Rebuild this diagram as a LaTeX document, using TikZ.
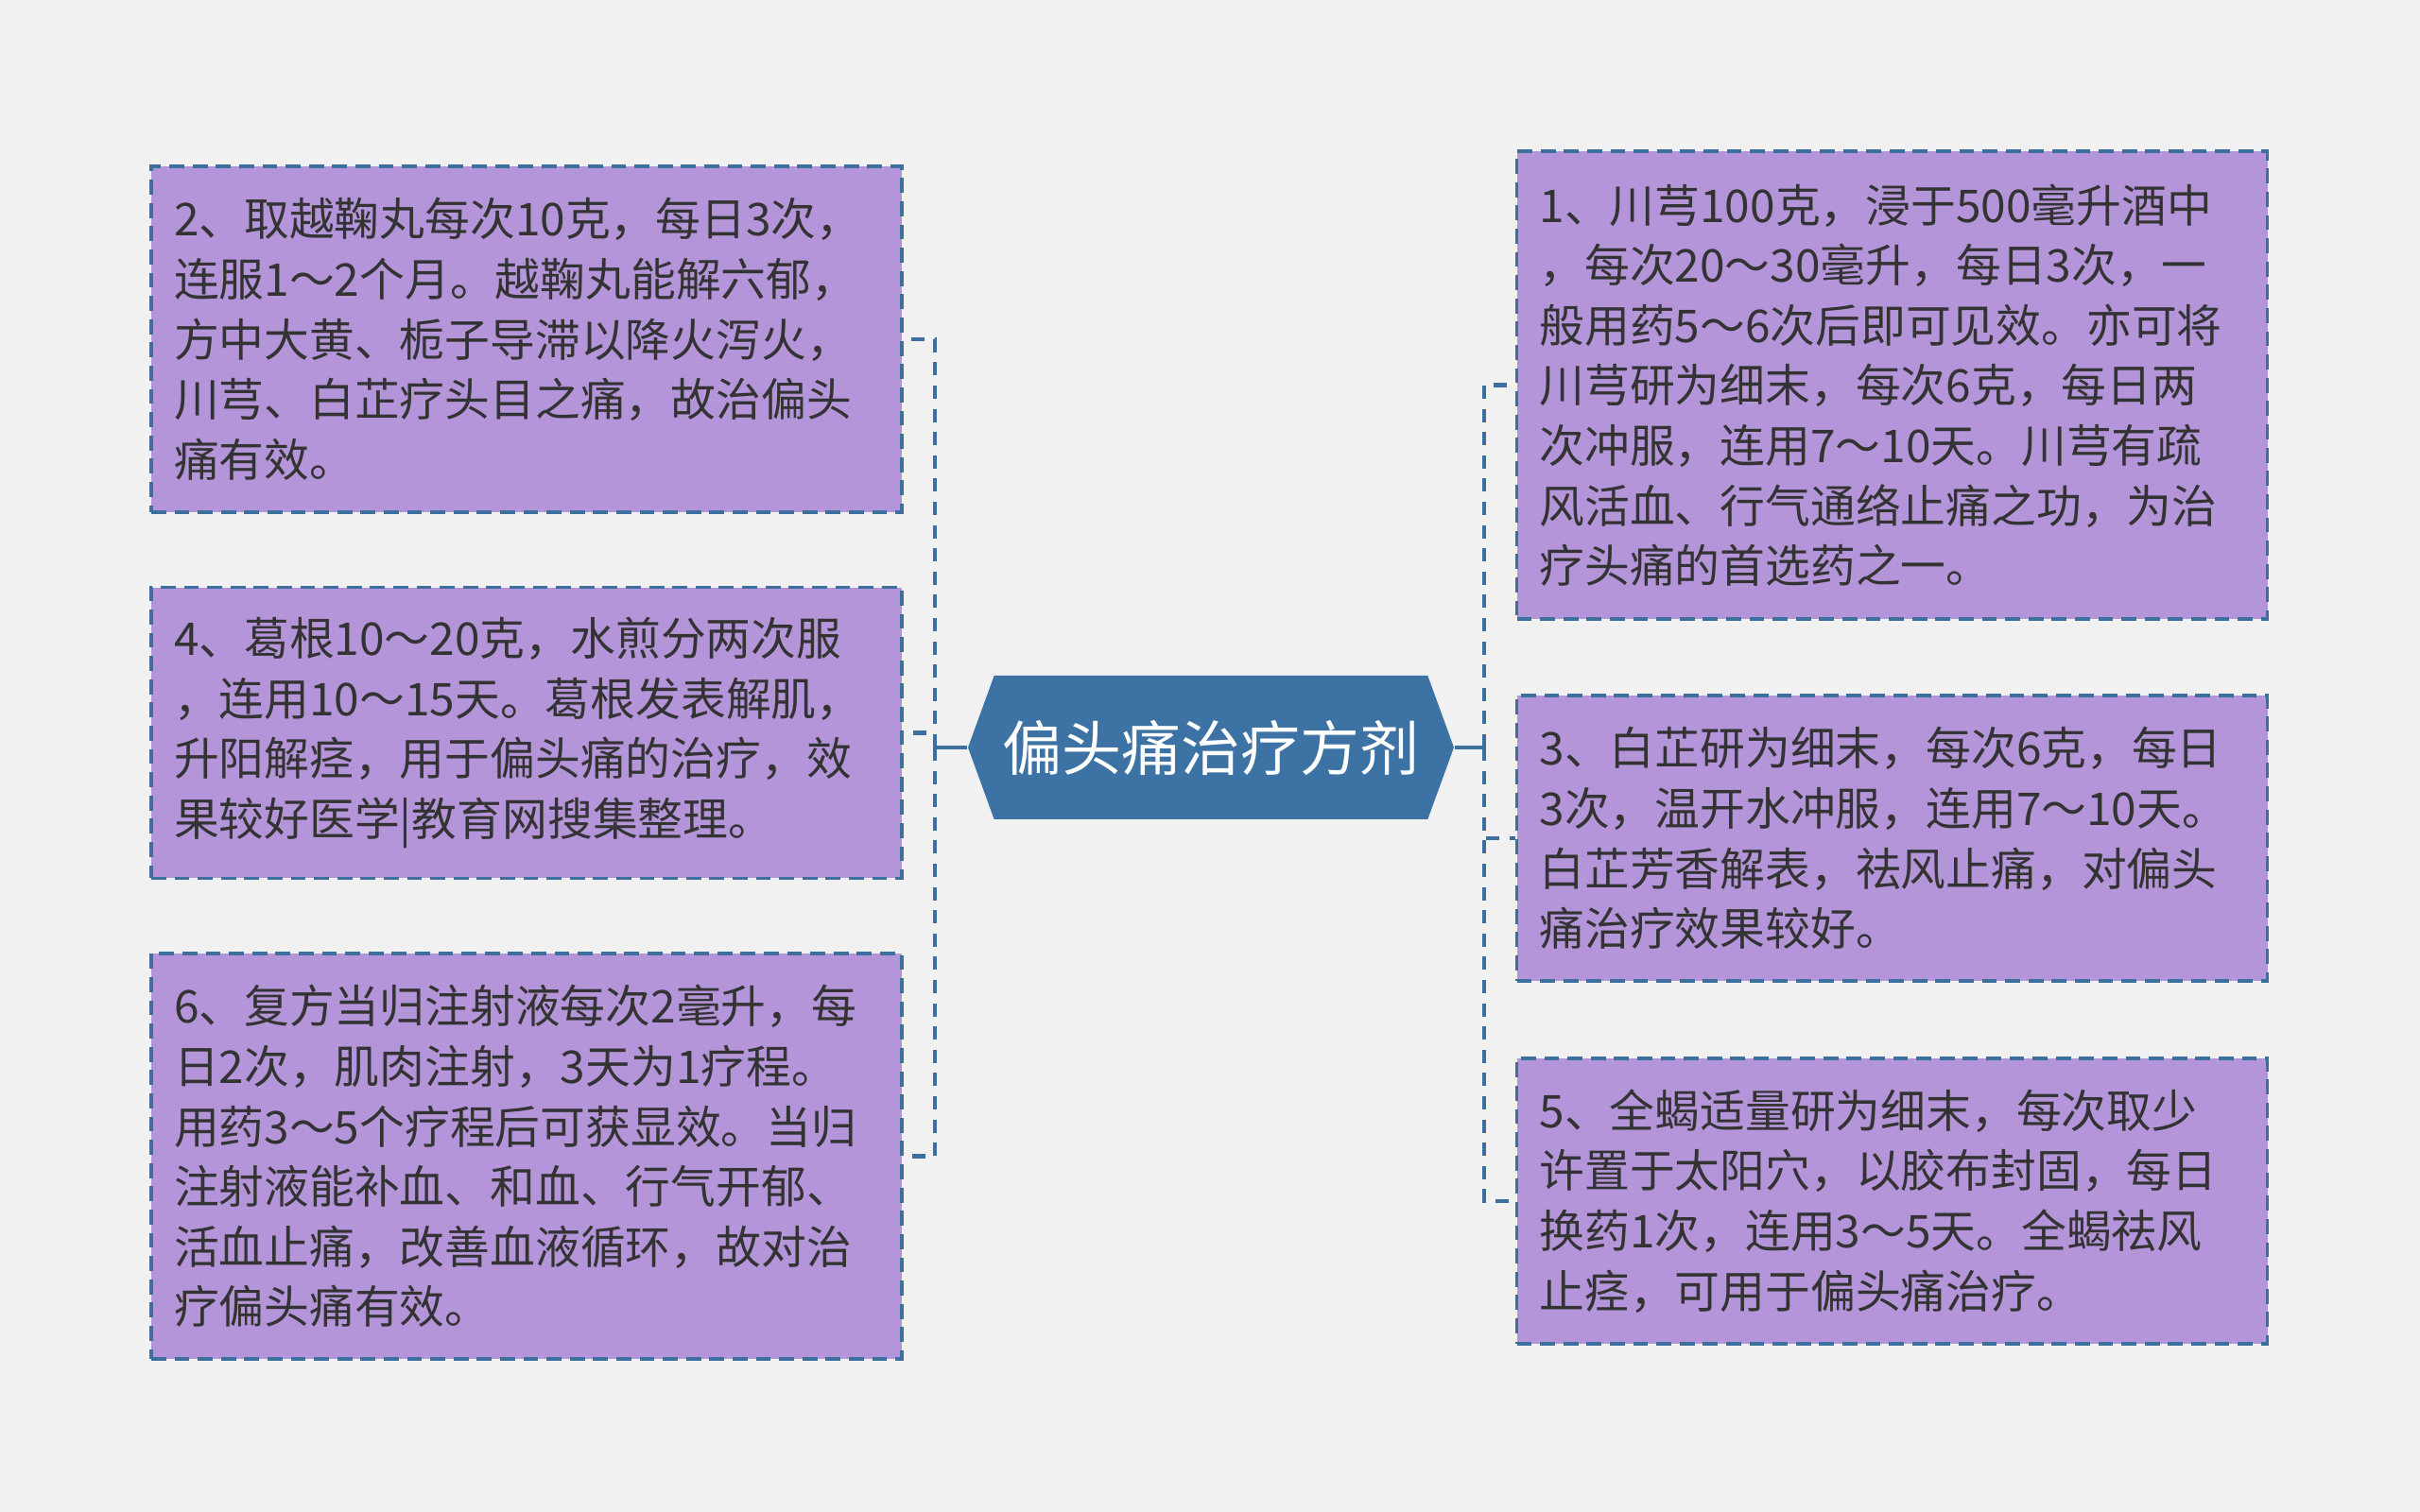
\documentclass[tikz,border=0pt]{standalone}
\usepackage{fontspec}
\setmainfont{Noto Sans CJK SC}
\usetikzlibrary{shapes.symbols}
\definecolor{bgc}{HTML}{F1F1F1}
\definecolor{leaff}{HTML}{B595D9}
\definecolor{linec}{HTML}{3C6E9E}
\definecolor{rootf}{HTML}{3D72A4}
\definecolor{textc}{HTML}{333333}

\begin{document}
\begin{tikzpicture}[
    leaf/.style={draw=linec, line width=1pt, dash pattern=on 4.5pt off 2.5pt,
      fill=leaff, text=textc, text width=7.46cm, inner xsep=0.24cm, inner ysep=0.315cm,
      align=left, font=\fontsize{13.6pt}{18.1pt}\selectfont},
    root/.style={signal, signal to=west and east, signal pointer angle=140,
      fill=rootf, text=white, minimum width=5.14cm, minimum height=1.52cm,
      inner sep=0pt, font=\fontsize{17.9pt}{20pt}\selectfont},
    link/.style={linec, line width=1.2pt, dash pattern=on 4pt off 3pt},
    stem/.style={linec, line width=1.2pt}]
            \fill[bgc] (0,0) rectangle (25.6,-16);

            \node[root] at (12.81,-7.91) (root) {偏头痛治疗方剂};

            \node[leaf, minimum height=3.66cm] at (5.57,-3.59) (b2) {2、取越鞠丸每次10克，每日3次，\\连服1～2个月。越鞠丸能解六郁，\\方中大黄、栀子导滞以降火泻火，\\川芎、白芷疗头目之痛，故治偏头\\痛有效。};
            \node[leaf, minimum height=3.03cm] at (5.57,-7.755) (b4) {4、葛根10～20克，水煎分两次服\\，连用10～15天。葛根发表解肌，\\升阳解痉，用于偏头痛的治疗，效\\果较好医学|教育网搜集整理。};
            \node[leaf, minimum height=4.29cm] at (5.57,-12.235) (b6) {6、复方当归注射液每次2毫升，每\\日2次，肌肉注射，3天为1疗程。\\用药3～5个疗程后可获显效。当归\\注射液能补血、和血、行气开郁、\\活血止痛，改善血液循环，故对治\\疗偏头痛有效。};

            \node[leaf, minimum height=4.95cm] at (20.015,-4.075) (b1) {1、川芎100克，浸于500毫升酒中\\，每次20～30毫升，每日3次，一\\般用药5～6次后即可见效。亦可将\\川芎研为细末，每次6克，每日两\\次冲服，连用7～10天。川芎有疏\\风活血、行气通络止痛之功，为治\\疗头痛的首选药之一。};
            \node[leaf, minimum height=3.02cm] at (20.015,-8.87) (b3) {3、白芷研为细末，每次6克，每日\\3次，温开水冲服，连用7～10天。\\白芷芳香解表，祛风止痛，对偏头\\痛治疗效果较好。};
            \node[leaf, minimum height=3.02cm] at (20.015,-12.71) (b5) {5、全蝎适量研为细末，每次取少\\许置于太阳穴，以胶布封固，每日\\换药1次，连用3～5天。全蝎祛风\\止痉，可用于偏头痛治疗。};

            \coordinate (jl) at (9.89,-7.91);
            \coordinate (jr) at (15.70,-7.91);

            \draw[stem] (root.west) -- (jl);
            \draw[stem] (root.east) -- (jr);
            \draw[link] (jl) |- (b2.east);
            \draw[link] (jl) |- (b4.east);
            \draw[link] (jl) |- (b6.east);
            \draw[link] (jr) |- (b1.west);
            \draw[link] (jr) |- (b3.west);
            \draw[link] (jr) |- (b5.west);
        \end{tikzpicture}
\end{document}
